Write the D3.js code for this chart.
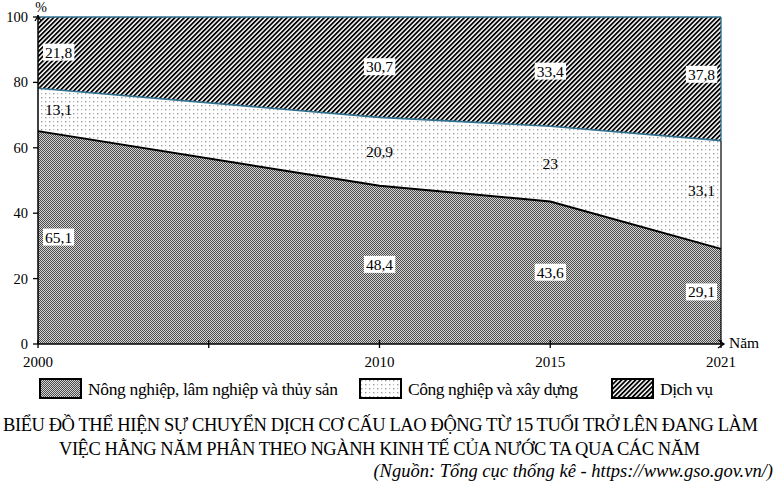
<!DOCTYPE html>
<html>
<head>
<meta charset="utf-8">
<script src="https://cdn.jsdelivr.net/npm/d3@7"></script>
<style>
  body { margin: 0; background: #fff; }
</style>
</head>
<body>
<svg id="chart" width="775" height="488"></svg>
<script>
// data
var years = ['2000', '2010', '2015', '2021'];
// where each year sits on the drawn axis (2021 is drawn on the 2020 tick)
var yearSlots = [2000, 2010, 2015, 2020];
var agri = [65.1, 48.4, 43.6, 29.1];
var industry = [13.1, 20.9, 23, 33.1];
var services = [21.8, 30.7, 33.4, 37.8];
var seriesNames = ['Nông nghiệp, lâm nghiệp và thủy sản', 'Công nghiệp và xây dựng', 'Dịch vụ'];
var yTicks = [0, 20, 40, 60, 80, 100];
var xTicks = [2000, 2005, 2010, 2015, 2020];
var xTickLabels = ['2000', '', '2010', '2015', '2021'];

var blue = '#31718f';
var serif = '"Liberation Serif", "Times New Roman", serif';
var svg = d3.select('#chart');

var x = d3.scaleLinear().domain([2000, 2020]).range([38, 721]);
var y = d3.scaleLinear().domain([0, 100]).range([344, 17]);

// patterns
var defs = svg.append('defs');
var pA = defs.append('pattern').attr('id', 'p-agri')
  .attr('patternUnits', 'userSpaceOnUse').attr('width', 2).attr('height', 2);
pA.append('rect').attr('width', 2).attr('height', 2).attr('fill', '#d4d4d4');
pA.append('rect').attr('width', 1).attr('height', 1).attr('fill', '#4a4a4a');
pA.append('rect').attr('x', 1).attr('y', 1).attr('width', 1).attr('height', 1).attr('fill', '#4a4a4a');

var pI = defs.append('pattern').attr('id', 'p-ind')
  .attr('patternUnits', 'userSpaceOnUse').attr('width', 8).attr('height', 8);
pI.append('rect').attr('width', 8).attr('height', 8).attr('fill', '#fff');
pI.append('rect').attr('x', 1).attr('y', 1).attr('width', 1.4).attr('height', 1.4).attr('fill', '#999');
pI.append('rect').attr('x', 5).attr('y', 5).attr('width', 1.4).attr('height', 1.4).attr('fill', '#999');
pI.append('rect').attr('x', 5).attr('y', 1).attr('width', 1.2).attr('height', 1.2).attr('fill', '#bbb');
pI.append('rect').attr('x', 1).attr('y', 5).attr('width', 1.2).attr('height', 1.2).attr('fill', '#bbb');

var pS = defs.append('pattern').attr('id', 'p-serv')
  .attr('patternUnits', 'userSpaceOnUse').attr('width', 3.3).attr('height', 10)
  .attr('patternTransform', 'rotate(45)');
pS.append('rect').attr('width', 3.3).attr('height', 10).attr('fill', '#fff');
pS.append('line').attr('x1', 0.9).attr('x2', 0.9).attr('y1', 0).attr('y2', 10)
  .attr('stroke', '#000').attr('stroke-width', 1.8);

var fills = ['url(#p-agri)', 'url(#p-ind)', 'url(#p-serv)'];

// stacked data
var rows = years.map(function (yr, i) {
  return { year: yr, slot: yearSlots[i], a: agri[i], b: industry[i], c: services[i] };
});
var stack = d3.stack().keys(['a', 'b', 'c']);
var layers = stack(rows);

var area = d3.area()
  .x(function (d) { return x(d.data.slot); })
  .y0(function (d) { return y(d[0]); })
  .y1(function (d) { return y(d[1]); });

svg.selectAll('.band').data(layers).enter().append('path')
  .attr('class', 'band')
  .attr('d', area)
  .attr('fill', function (d, i) { return fills[i]; });

var topLine = d3.line()
  .x(function (d) { return x(d.data.slot); })
  .y(function (d) { return y(d[1]); });

svg.append('path').attr('d', topLine(layers[0]))
  .attr('fill', 'none').attr('stroke', '#000').attr('stroke-width', 2);
svg.append('path').attr('d', topLine(layers[1]))
  .attr('fill', 'none').attr('stroke', blue).attr('stroke-width', 1.6);
svg.append('path').attr('d', topLine(layers[2]))
  .attr('fill', 'none').attr('stroke', blue).attr('stroke-width', 1.6);

// right edge
var last = rows.length - 1;
svg.append('line')
  .attr('x1', x(yearSlots[last])).attr('x2', x(yearSlots[last]))
  .attr('y1', y(0)).attr('y2', y(layers[1][last][1]))
  .attr('stroke', '#000').attr('stroke-width', 1.2);
svg.append('line')
  .attr('x1', x(yearSlots[last])).attr('x2', x(yearSlots[last]))
  .attr('y1', y(layers[1][last][1])).attr('y2', y(100))
  .attr('stroke', blue).attr('stroke-width', 1.4);

// y axis
var axisG = svg.append('g').attr('stroke', '#000');
axisG.append('line').attr('x1', x(2000)).attr('x2', x(2000))
  .attr('y1', y(0)).attr('y2', y(100) - 2).attr('stroke-width', 1.5);
axisG.append('path')
  .attr('d', 'M' + (x(2000) - 3) + ',' + (y(100) + 4) + 'L' + x(2000) + ',' + (y(100) - 1) + 'L' + (x(2000) + 3) + ',' + (y(100) + 4))
  .attr('fill', 'none').attr('stroke-width', 1.3);
axisG.selectAll('.ytick').data(yTicks).enter().append('line')
  .attr('x1', x(2000) - 5).attr('x2', x(2000))
  .attr('y1', function (d) { return y(d); }).attr('y2', function (d) { return y(d); })
  .attr('stroke-width', 1.3);

svg.selectAll('.ylab').data(yTicks).enter().append('text')
  .attr('x', x(2000) - 10).attr('y', function (d) { return y(d) + 5; })
  .attr('text-anchor', 'end').attr('font-size', 14.5).text(function (d) { return d; });
svg.append('text').attr('x', x(2000) + 3).attr('y', 12)
  .attr('text-anchor', 'middle').attr('font-size', 14).text('%');

// x axis
axisG.append('line').attr('x1', x(2000)).attr('x2', x(2020) + 3)
  .attr('y1', y(0)).attr('y2', y(0)).attr('stroke-width', 1.5);
axisG.append('path')
  .attr('d', 'M' + (x(2020) - 3) + ',' + (y(0) - 4) + 'L' + (x(2020) + 3) + ',' + y(0) + 'L' + (x(2020) - 3) + ',' + (y(0) + 4))
  .attr('fill', 'none').attr('stroke-width', 1.3);
axisG.selectAll('.xtick').data(xTicks).enter().append('line')
  .attr('x1', function (d) { return x(d); }).attr('x2', function (d) { return x(d); })
  .attr('y1', y(0) - 4).attr('y2', y(0) + 4).attr('stroke-width', 1.3);

svg.selectAll('.xlab').data(xTicks).enter().append('text')
  .attr('x', function (d) { return x(d); }).attr('y', y(0) + 23)
  .attr('text-anchor', 'middle').attr('font-size', 15)
  .text(function (d, i) { return xTickLabels[i]; });
svg.append('text').attr('x', x(2020) + 8).attr('y', y(0) + 4)
  .attr('font-size', 15.5).text('Năm');

// value labels
var fmt = function (v) { return String(v).replace('.', ','); };
layers.forEach(function (layer, li) {
  layer.forEach(function (d, i) {
    var px = x(d.data.slot), anchor = 'middle';
    if (i === 0) { px += 7; anchor = 'start'; }
    if (i === last) { px -= 6; anchor = 'end'; }
    var py = y((d[0] + d[1]) / 2) + 5;
    if (i === last) py -= 4;
    var g = svg.append('g');
    var t = g.append('text').attr('x', px).attr('y', py)
      .attr('text-anchor', anchor).attr('font-size', 15.5)
      .attr('font-family', serif)
      .text(fmt(+(d[1] - d[0]).toFixed(1)));
    if (li !== 1) {
      var bb = t.node().getBBox();
      g.insert('rect', 'text')
        .attr('x', bb.x - 2).attr('y', bb.y).attr('width', bb.width + 4).attr('height', bb.height)
        .attr('fill', '#fff');
    }
  });
});

// legend
var legX = [40, 360, 612];
var legW = [250, 170, 53];
var legend = svg.selectAll('.leg').data(seriesNames).enter().append('g')
  .attr('transform', function (d, i) { return 'translate(' + legX[i] + ',379)'; });
legend.append('rect').attr('width', 41).attr('height', 19)
  .attr('fill', function (d, i) { return fills[i]; })
  .attr('stroke', '#000').attr('stroke-width', 2);
legend.append('text').attr('x', 48).attr('y', 16)
  .attr('font-size', 17.5)
  .attr('textLength', function (d, i) { return legW[i]; })
  .attr('lengthAdjust', 'spacing')
  .text(function (d) { return d; });

// title
svg.append('text').attr('x', 3).attr('y', 431)
  .attr('font-size', 18.5).attr('textLength', 755).attr('lengthAdjust', 'spacing')
  .text('BIỂU ĐỒ THỂ HIỆN SỰ CHUYỂN DỊCH CƠ CẤU LAO ĐỘNG TỪ 15 TUỔI TRỞ LÊN ĐANG LÀM');
svg.append('text').attr('x', 59).attr('y', 455)
  .attr('font-size', 18.5).attr('textLength', 641).attr('lengthAdjust', 'spacing')
  .text('VIỆC HẰNG NĂM PHÂN THEO NGÀNH KINH TẾ CỦA NƯỚC TA QUA CÁC NĂM');
svg.append('text').attr('x', 773).attr('y', 477).attr('text-anchor', 'end')
  .attr('font-size', 18.5).attr('font-style', 'italic')
  .text('(Nguồn: Tổng cục thống kê - https://www.gso.gov.vn/)');

svg.selectAll('text').attr('font-family', serif);
</script>
</body>
</html>
